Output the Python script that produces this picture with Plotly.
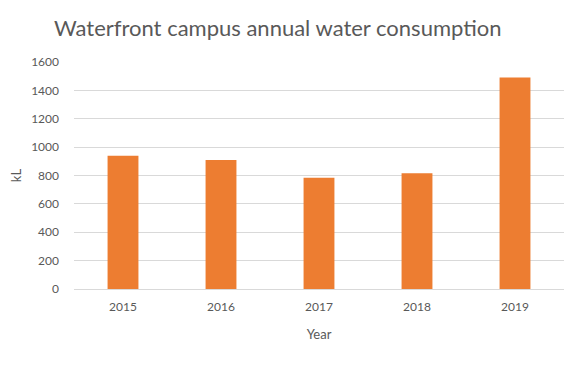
import plotly.graph_objects as go

years = ["2015", "2016", "2017", "2018", "2019"]
consumption_kl = [940, 910, 785, 815, 1490]
y_ticks = [0, 200, 400, 600, 800, 1000, 1200, 1400, 1600]

fig = go.Figure(go.Bar(x=years, y=consumption_kl, marker=dict(color="#ED7D31", line=dict(width=0))))

fig.update_layout(
    width=556, height=365,
    margin=dict(l=54, r=0, t=54, b=84),
    paper_bgcolor="white", plot_bgcolor="white",
    bargap=0.685,
    font=dict(family="Lato, Open Sans, sans-serif", color="#595959", size=12),
    title=dict(text="Waterfront campus annual water consumption", x=0.0827, xanchor="left",
               y=0.945, yanchor="middle", font=dict(size=22, color="#595959")),
    showlegend=False,
)
fig.update_yaxes(range=[0, 1600], tickvals=y_ticks, showgrid=True, gridcolor="#D9D9D9", gridwidth=1,
                 zeroline=False, showline=False, ticklabelstandoff=14,
                 title=dict(text="kL", standoff=14, font=dict(size=13)))
fig.update_xaxes(showline=True, linecolor="#D9D9D9", linewidth=1, ticks="", ticklabelstandoff=7,
                 title=dict(text="Year", standoff=16, font=dict(size=13)))

fig.write_html("out.html")
